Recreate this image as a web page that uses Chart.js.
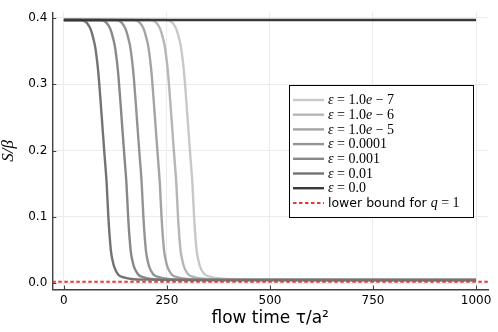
<!DOCTYPE html>
<html>
<head>
<meta charset="utf-8">
<script src="https://cdn.jsdelivr.net/npm/chart.js@4"></script>
<style>
  html, body { margin: 0; padding: 0; background: #ffffff; }
  #wrap { width: 498px; height: 332px; }
</style>
</head>
<body>
<div id="wrap"><canvas id="c" width="498" height="332"></canvas></div>
<script>
// ---- data ----
const xTickValues = [0, 250, 500, 750, 1000];
const xTickLabels = ['0', '250', '500', '750', '1000'];
const yTickValues = [0.0, 0.1, 0.2, 0.3, 0.4];
const yTickLabels = ['0.0', '0.1', '0.2', '0.3', '0.4'];

const epsLabels = ['1.0e − 7', '1.0e − 6', '1.0e − 5', '0.0001', '0.001', '0.01', '0.0'];
const epsColors = ['#c8c8c8', '#b6b6b6', '#a4a4a4', '#949494', '#888888', '#737373', '#383838'];

const tau_1e7 = [0, 246, 256, 264, 273, 279, 283.5, 289, 293, 299, 306, 312, 316, 322, 326, 330, 340, 356, 372, 406, 510, 1000];
const S_1e7   = [0.3966, 0.3966, 0.3955, 0.392, 0.3826, 0.370, 0.358, 0.333, 0.308, 0.2585, 0.199, 0.149, 0.100, 0.050, 0.036, 0.026, 0.0145, 0.0098, 0.0077, 0.0062, 0.0054, 0.005];

const tau_1e6 = [0, 207, 217, 225, 234, 240, 244.5, 250, 254, 260, 267, 273, 277, 283, 287, 291, 301, 317, 333, 367, 470, 1000];
const S_1e6   = [0.3966, 0.3966, 0.3955, 0.392, 0.3826, 0.370, 0.358, 0.333, 0.308, 0.2585, 0.199, 0.149, 0.100, 0.050, 0.036, 0.026, 0.014, 0.0093, 0.0073, 0.006, 0.0053, 0.005];

const tau_1e5 = [0, 167, 177, 185, 194, 200, 204.5, 210, 214, 220, 227, 233, 237, 243, 247, 251, 261, 277, 293, 327, 430, 1000];
const S_1e5   = [0.3966, 0.3966, 0.3955, 0.392, 0.3826, 0.370, 0.358, 0.333, 0.308, 0.2585, 0.199, 0.149, 0.100, 0.050, 0.0355, 0.0255, 0.0138, 0.009, 0.007, 0.0058, 0.0052, 0.005];

const tau_1e4 = [0, 123, 133, 141, 150, 156, 160.5, 166, 170, 176, 183, 189, 193, 199, 203, 207, 217, 233, 249, 283, 390, 1000];
const S_1e4   = [0.3966, 0.3966, 0.3955, 0.392, 0.3826, 0.370, 0.358, 0.333, 0.308, 0.2585, 0.199, 0.149, 0.100, 0.050, 0.035, 0.025, 0.0135, 0.0088, 0.0068, 0.0057, 0.0051, 0.005];

const tau_1e3 = [0, 86, 96, 104, 113, 119, 123.5, 129, 133, 139, 146, 152, 156, 162, 166, 170, 180, 196, 212, 246, 350, 1000];
const S_1e3   = [0.3966, 0.3966, 0.3955, 0.392, 0.3826, 0.370, 0.358, 0.333, 0.308, 0.2585, 0.199, 0.149, 0.100, 0.050, 0.035, 0.025, 0.0135, 0.0087, 0.0067, 0.0056, 0.0051, 0.005];

const tau_1e2 = [0, 38, 48, 56, 65, 71, 75.5, 81, 85, 91, 98, 104, 108, 114, 118, 122, 132, 148, 164, 198, 300, 1000];
const S_1e2   = [0.3966, 0.3966, 0.3955, 0.392, 0.3826, 0.370, 0.358, 0.333, 0.308, 0.2585, 0.199, 0.149, 0.100, 0.050, 0.035, 0.025, 0.013, 0.0085, 0.0065, 0.0055, 0.0051, 0.005];

const tau_0 = [0, 1000];
const S_0   = [0.3966, 0.3966];

const lowerBoundLabel = 'lower bound for q = 1';
const lowerBoundValue = 0.0022;
const lowerBoundColor = '#e8383d';

const xLimits = [-28, 1029];
const yLimits = [-0.0093, 0.4083];

// ---- build datasets ----
const tauSeries = [tau_1e7, tau_1e6, tau_1e5, tau_1e4, tau_1e3, tau_1e2, tau_0];
const SSeries   = [S_1e7, S_1e6, S_1e5, S_1e4, S_1e3, S_1e2, S_0];
const toPoints = (xs, ys) => xs.map((x, i) => ({ x: x, y: ys[i] }));

const datasets = epsLabels.map((lab, i) => ({
  label: 'ε = ' + lab,
  data: toPoints(tauSeries[i], SSeries[i]),
  borderColor: epsColors[i],
  backgroundColor: epsColors[i],
  borderWidth: i === epsLabels.length - 1 ? 2.4 : 2.4,
  pointRadius: 0,
  fill: false,
  cubicInterpolationMode: 'monotone'
}));
datasets.push({
  label: lowerBoundLabel,
  data: toPoints(xLimits, [lowerBoundValue, lowerBoundValue]),
  borderColor: lowerBoundColor,
  backgroundColor: lowerBoundColor,
  borderWidth: 2,
  borderDash: [3.5, 2.5],
  pointRadius: 0,
  fill: false
});
datasets.forEach((d, i) => { d.order = datasets.length - 1 - i; });

// ---- plugins ----
const innerTicks = {
  id: 'innerTicks',
  afterDraw(chart) {
    const ctx = chart.ctx, xs = chart.scales.x, ys = chart.scales.y, a = chart.chartArea;
    ctx.save();
    ctx.strokeStyle = '#404040';
    ctx.lineWidth = 1;
    ctx.beginPath();
    xTickValues.forEach(v => {
      const px = Math.round(xs.getPixelForValue(v)) + 0.5;
      ctx.moveTo(px, a.bottom); ctx.lineTo(px, a.bottom - 4);
    });
    yTickValues.forEach(v => {
      const py = Math.round(ys.getPixelForValue(v)) + 0.5;
      ctx.moveTo(a.left, py); ctx.lineTo(a.left + 4, py);
    });
    ctx.stroke();
    ctx.restore();
  }
};

function drawRuns(ctx, runs, x, y) {
  let cx = x;
  runs.forEach(r => {
    ctx.font = r[1];
    ctx.fillText(r[0], cx, y);
    cx += ctx.measureText(r[0]).width;
  });
}

const customLegend = {
  id: 'customLegend',
  afterDraw(chart) {
    const ctx = chart.ctx;
    const bx = 289.5, by = 85.5, bw = 184, bh = 132;
    ctx.save();
    ctx.fillStyle = '#ffffff';
    ctx.fillRect(bx, by, bw, bh);
    ctx.strokeStyle = '#000000';
    ctx.lineWidth = 1;
    ctx.strokeRect(bx, by, bw, bh);
    const serif = '14px "Liberation Serif"';
    const serifIt = 'italic 14px "Liberation Serif"';
    const sans = '12.5px "DejaVu Sans"';
    const rowY0 = 100, rowDy = 14.7;
    ctx.textBaseline = 'middle';
    ctx.textAlign = 'left';
    chart.data.datasets.forEach((d, i) => {
      const y = rowY0 + i * rowDy;
      ctx.beginPath();
      ctx.strokeStyle = d.borderColor;
      ctx.lineWidth = d.borderWidth;
      ctx.setLineDash(d.borderDash || []);
      ctx.moveTo(293, y); ctx.lineTo(324, y);
      ctx.stroke();
      ctx.setLineDash([]);
      ctx.fillStyle = '#000000';
      let runs;
      if (i < epsLabels.length) {
        runs = [['ε', serifIt], [' = ', serif]];
        const parts = epsLabels[i].split('e');
        parts.forEach((p, k) => {
          if (k > 0) runs.push(['e', serifIt]);
          runs.push([p, serif]);
        });
      } else {
        const m = lowerBoundLabel.split('q');
        runs = [[m[0], sans], ['q', serifIt], [m[1], serif]];
      }
      drawRuns(ctx, runs, 328, y + 0.5);
    });
    ctx.restore();
  }
};

new Chart(document.getElementById('c'), {
  type: 'line',
  data: { datasets: datasets },
  options: {
    responsive: false,
    animation: false,
    layout: { padding: { top: 9.4, right: 10, left: 0, bottom: 0 } },
    plugins: {
      legend: { display: false },
      tooltip: { enabled: false }
    },
    scales: {
      x: {
        type: 'linear',
        min: xLimits[0],
        max: xLimits[1],
        afterBuildTicks: s => { s.ticks = xTickValues.map(v => ({ value: v })); },
        afterFit: s => { s.height = 42.5; },
        ticks: {
          callback: (v) => xTickLabels[xTickValues.indexOf(v)],
          font: { family: 'DejaVu Sans', size: 12 },
          color: '#000000',
          padding: 4.5,
          maxRotation: 0,
          autoSkip: false
        },
        grid: { color: '#ebebeb', lineWidth: 1, drawTicks: false },
        border: { color: '#404040', width: 1.4 },
        title: {
          display: true,
          text: 'flow time τ/a²',
          font: { family: 'DejaVu Sans', size: 17, lineHeight: 1.2 },
          color: '#000000',
          padding: { top: 0, bottom: 3 }
        }
      },
      y: {
        type: 'linear',
        min: yLimits[0],
        max: yLimits[1],
        afterBuildTicks: s => { s.ticks = yTickValues.map(v => ({ value: v })); },
        afterFit: s => { s.width = 52.3; },
        ticks: {
          callback: (v) => yTickLabels[yTickValues.findIndex(t => Math.abs(t - v) < 1e-9)],
          font: { family: 'DejaVu Sans', size: 12 },
          color: '#000000',
          padding: 5,
          autoSkip: false
        },
        grid: { color: '#ebebeb', lineWidth: 1, drawTicks: false },
        border: { color: '#404040', width: 1.4 },
        title: {
          display: true,
          text: 'S/β',
          font: { family: 'Liberation Serif', size: 17, style: 'italic', lineHeight: 1 },
          color: '#000000',
          padding: { top: 0, bottom: 0 }
        }
      }
    }
  },
  plugins: [innerTicks, customLegend]
});
</script>
</body>
</html>
